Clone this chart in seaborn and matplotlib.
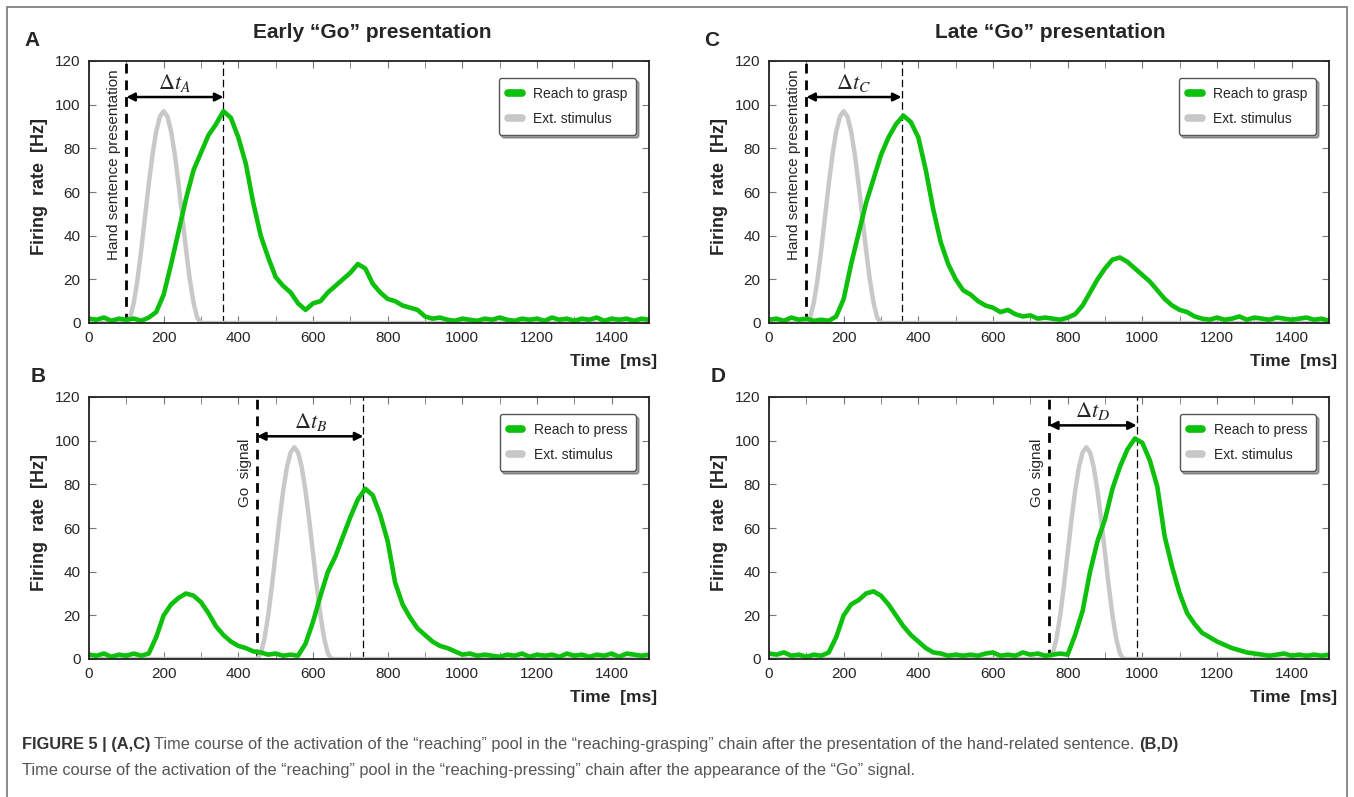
import numpy as np
import pandas as pd
import matplotlib
matplotlib.use('Agg')
import matplotlib.pyplot as plt
from matplotlib.patches import Rectangle
from matplotlib.ticker import MultipleLocator
import seaborn as sns

# time grid of the green traces (ms)
time_ms = list(range(0, 1501, 20))

# reaching pool firing rate [Hz]
rate_A = [2, 1.5, 2.5, 1, 2, 1.5, 2, 1, 2.5, 5, 13, 27, 42, 57, 70, 78, 86, 91, 97, 94,
          85, 73, 55, 40, 30, 21, 17, 14, 9, 6, 9, 10, 14, 17, 20, 23, 27, 25, 18, 14,
          11, 10, 8, 7, 6, 3, 2, 2.5, 1.5, 1, 2, 1.5, 1, 2, 1.5, 2.5, 1.5, 1, 2, 1.5,
          2, 1, 2.5, 1.5, 2, 1, 2, 1.5, 2.5, 1, 2, 1.5, 2, 1, 2, 1.5]
rate_B = [2, 1.5, 2.5, 1, 2, 1.5, 2.5, 1.5, 2.5, 10, 20, 25, 28, 30, 29, 26, 21, 15, 11, 8,
          6, 5, 3.5, 3, 2, 2.5, 1.5, 2, 1.5, 7, 17, 29, 40, 47, 56, 65, 73, 78, 75, 66,
          54, 35, 25, 19, 14, 11, 8, 6, 5, 3.5, 2, 2.5, 1.5, 2, 1.5, 1, 2, 1.5, 2.5, 1,
          2, 1.5, 2, 1, 2.5, 1.5, 2, 1, 2, 1.5, 2.5, 1, 2.5, 2, 1.5, 2]
rate_C = [1.5, 2, 1, 2.5, 1.5, 2, 1, 1.5, 1, 3, 11, 27, 41, 55, 66, 77, 85, 91, 95, 92,
          85, 70, 52, 37, 27, 20, 15, 13, 10, 8, 7, 5, 6, 4, 3, 3.5, 2, 2.5, 2, 1.5,
          2.5, 4, 8, 14, 20, 25, 29, 30, 28, 25, 22, 19, 15, 11, 8, 6, 5, 3, 2, 1.5,
          2.5, 1.5, 2, 3, 1.5, 2.5, 2, 1.5, 2.5, 2, 1.5, 2, 2.5, 1.5, 2, 1]
rate_D = [2.5, 2, 3, 1.5, 2, 1, 2, 1.5, 3, 10, 20, 25, 27, 30, 31, 29, 25, 20, 15, 11,
          8, 5, 3, 2.5, 1.5, 2, 1.5, 2, 1.5, 2.5, 3, 1.5, 2, 1.5, 3, 2, 2.5, 1.5, 2, 2.5,
          2, 11, 22, 40, 54, 64, 78, 88, 96, 101, 99, 91, 79, 56, 42, 30, 21, 16, 12, 10,
          8, 6.5, 5, 4, 3, 2.5, 2, 1.5, 2, 2.5, 1.5, 2, 1.5, 2, 1.5, 2]

# external stimulus profile, 10 ms steps from onset
stim_shape = [0, 2.4, 9.3, 20, 33.5, 48.5, 63.5, 77, 87.7, 94.6, 97,
              94.6, 87.7, 77, 63.5, 48.5, 33.5, 20, 9.3, 2.4, 0]
stim_onset = {'A': 100, 'B': 450, 'C': 100, 'D': 750}

# event markers (ms): sentence / Go onset and reaching peak
event_onset = {'A': 100, 'B': 450, 'C': 100, 'D': 750}
event_peak = {'A': 360, 'B': 735, 'C': 355, 'D': 985}
arrow_y = {'A': 103.5, 'B': 102, 'C': 103.5, 'D': 107}

rates = {'A': rate_A, 'B': rate_B, 'C': rate_C, 'D': rate_D}
series_name = {'A': 'Reach to grasp', 'B': 'Reach to press',
               'C': 'Reach to grasp', 'D': 'Reach to press'}
event_text = {'A': 'Hand sentence presentation', 'B': 'Go  signal',
              'C': 'Hand sentence presentation', 'D': 'Go  signal'}

GREEN = '#0cc00c'
GRAY = '#c8c8c8'

sns.set_style('ticks')
plt.rcParams['font.family'] = ['Liberation Sans', 'DejaVu Sans']
plt.rcParams['mathtext.fontset'] = 'stix'

W, H = 1354, 797
fig = plt.figure(figsize=(W / 100, H / 100), dpi=100)

boxes = {'A': (89, 61), 'C': (769, 61), 'B': (89, 397), 'D': (769, 397)}
ax_w, ax_h = 560, 262


def draw_panel(key):
    x0, y0 = boxes[key]
    ax = fig.add_axes([x0 / W, 1 - (y0 + ax_h) / H, ax_w / W, ax_h / H])

    stim_t = [0] + [stim_onset[key] + 10 * i for i in range(len(stim_shape))] + [1500]
    stim_v = [0] + stim_shape + [0]
    df_stim = pd.DataFrame({'time': stim_t, 'rate': stim_v})
    df_rate = pd.DataFrame({'time': time_ms, 'rate': rates[key]})

    sns.lineplot(data=df_stim, x='time', y='rate', ax=ax, color=GRAY, lw=3.2,
                 label='Ext. stimulus', legend=False)
    sns.lineplot(data=df_rate, x='time', y='rate', ax=ax, color=GREEN, lw=3.3,
                 label=series_name[key], legend=False)

    on, pk = event_onset[key], event_peak[key]
    ax.axvline(on, color='black', lw=2, ls=(0, (3.5, 2.5)), zorder=1)
    ax.axvline(pk, color='black', lw=0.9, ls=(0, (6, 3)), zorder=1)
    ax.annotate('', xy=(on, arrow_y[key]), xytext=(pk, arrow_y[key]),
                arrowprops=dict(arrowstyle='<|-|>', color='black', lw=1.8,
                                mutation_scale=12, shrinkA=0, shrinkB=0))
    ax.text((on + pk) / 2, arrow_y[key] + 1.5, r'$\Delta t_{\mathit{' + key + '}}$',
            ha='center', va='bottom', fontsize=16)

    top = 116 if key in ('A', 'C') else 101
    ax.text(on - 32, top, event_text[key], rotation=90, ha='center', va='top', fontsize=11)

    ax.set_xlim(0, 1500)
    ax.set_ylim(0, 120)
    ax.xaxis.set_major_locator(MultipleLocator(200))
    ax.xaxis.set_minor_locator(MultipleLocator(100))
    ax.yaxis.set_major_locator(MultipleLocator(20))
    ax.tick_params(which='both', direction='in', top=True, right=True,
                   color='#777', labelsize=11, pad=6, length=5)
    for s in ax.spines.values():
        s.set_linewidth(1.3)
        s.set_color('#222')

    ax.set_xlabel('Time  [ms]', fontsize=12.5, fontweight='bold', ha='right')
    ax.xaxis.set_label_coords(1.015, -0.12)
    ax.set_ylabel('Firing  rate  [Hz]', fontsize=13, fontweight='bold')
    ax.yaxis.set_label_coords(-0.073, 0.52)

    handles, labels = ax.get_legend_handles_labels()
    leg = ax.legend(handles[::-1], labels[::-1], loc='upper right',
                    bbox_to_anchor=(0.977, 0.935), borderaxespad=0, fontsize=10,
                    frameon=True, fancybox=True, shadow=True, handlelength=1.0,
                    handletextpad=0.8, labelspacing=0.8, borderpad=0.65)
    leg.get_frame().set_edgecolor('#555')
    leg.get_frame().set_linewidth(1)
    for ln in leg.get_lines():
        ln.set_linewidth(5.5)
    return ax


for k in ['A', 'B', 'C', 'D']:
    draw_panel(k)

# panel letters and column titles
for k, (px, py) in {'A': (32, 40), 'C': (712, 40), 'B': (38, 377), 'D': (718, 377)}.items():
    fig.text(px / W, 1 - py / H, k, fontsize=15, fontweight='bold', ha='center', va='center')
fig.text(372 / W, 1 - 32 / H, 'Early \u201cGo\u201d presentation', fontsize=15,
         fontweight='bold', ha='center', va='center')
fig.text(1050 / W, 1 - 32 / H, 'Late \u201cGo\u201d presentation', fontsize=15,
         fontweight='bold', ha='center', va='center')

# outer frame
fig.patches.append(Rectangle((7 / W, -0.02), (1347 - 7) / W, 1.02 - 7 / H,
                             transform=fig.transFigure, fill=False,
                             edgecolor='#777', lw=1.2))

# caption
renderer = fig.canvas.get_renderer()
cap_kw = dict(fontsize=11.8, va='center', ha='left')
y1, y2 = 1 - 745 / H, 1 - 771 / H
t1 = fig.text(22 / W, y1, 'FIGURE 5 | (A,C)', fontweight='bold', color='#333', **cap_kw)
bb = t1.get_window_extent(renderer)
t2 = fig.text(bb.x1 / W + 4 / W, y1,
              'Time course of the activation of the \u201creaching\u201d pool in the '
              '\u201creaching-grasping\u201d chain after the presentation of the hand-related sentence.',
              color='#555', **cap_kw)
bb = t2.get_window_extent(renderer)
fig.text(bb.x1 / W + 4 / W, y1, '(B,D)', fontweight='bold', color='#333', **cap_kw)
fig.text(22 / W, y2,
         'Time course of the activation of the \u201creaching\u201d pool in the '
         '\u201creaching-pressing\u201d chain after the appearance of the \u201cGo\u201d signal.',
         color='#555', **cap_kw)

fig.savefig('out.png', dpi=100)
